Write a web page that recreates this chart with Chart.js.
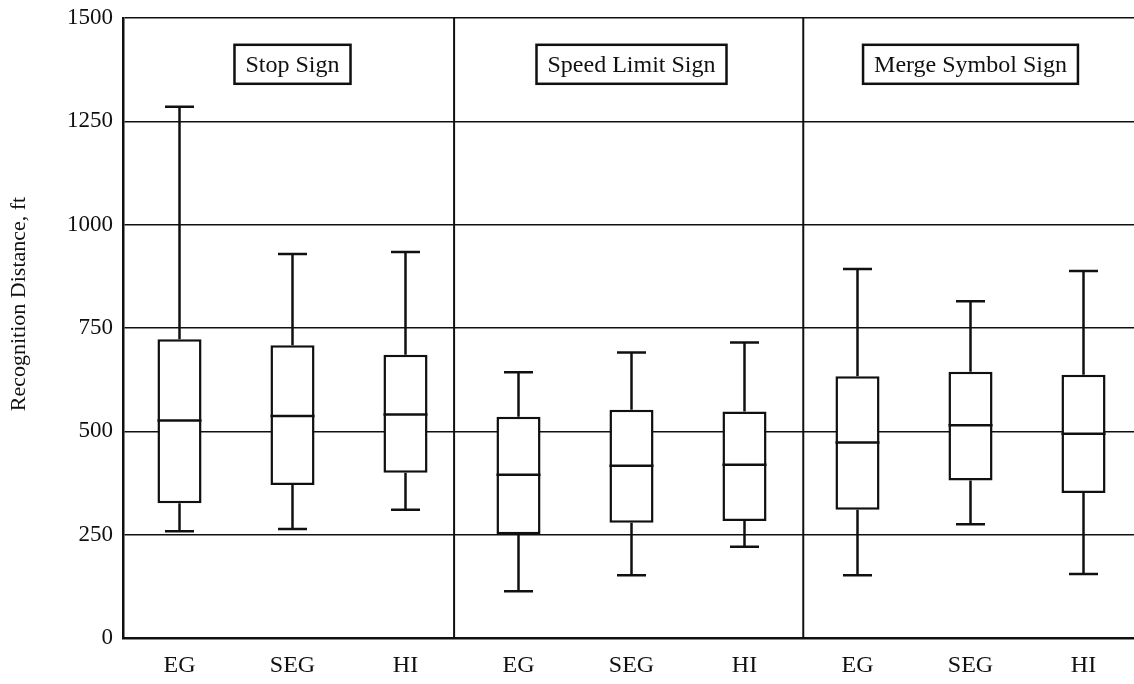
<!DOCTYPE html>
<html>
<head>
<meta charset="utf-8">
<title>Recognition Distance by Sign Type</title>
<script src="https://cdn.jsdelivr.net/npm/chart.js@4.4.1/dist/chart.umd.min.js"></script>
<style>
  html, body { margin: 0; padding: 0; background: #ffffff; overflow: hidden; }
  #wrap { width: 1134px; height: 684px; overflow: hidden; position: relative; }
  canvas { display: block; }
</style>
</head>
<body>
<div id="wrap"><canvas id="chart" width="1141" height="684"></canvas></div>
<script>
// Groups along the x axis (three sign types, three conditions each)
const categories = ['EG', 'SEG', 'HI', 'EG', 'SEG', 'HI', 'EG', 'SEG', 'HI'];

// Box-plot statistics, recognition distance in ft
const whiskerLow  = [258, 264, 310, 113, 152, 221, 152, 275, 155];
const quartile1   = [326, 370, 400, 251, 279, 283, 310, 381, 351];
const medians     = [526, 537, 541, 395, 417, 419, 473, 515, 494];
const quartile3   = [723, 708, 685, 535, 552, 548, 633, 644, 637];
const whiskerHigh = [1285, 929, 934, 643, 691, 715, 893, 815, 888];

// Panel captions, the category each is centred over, and panel dividers
const panelNames   = ['Stop Sign', 'Speed Limit Sign', 'Merge Symbol Sign'];
const panelCenters = [1, 4, 7];
const panelBreaks  = [2.43, 5.52];
const captionLevel = 1388;

// Y axis ticks
const yTicks = [0, 250, 500, 750, 1000, 1250, 1500];

const INK = '#101010';
const SERIF = "'Liberation Serif', 'DejaVu Serif', serif";

const boxData = categories.map((_, i) => [quartile1[i], quartile3[i]]);

// Panel dividers drawn under the boxes
const dividerPlugin = {
  id: 'dividers',
  beforeDatasetsDraw(chart) {
    const { ctx, chartArea, scales } = chart;
    ctx.save();
    ctx.strokeStyle = INK;
    ctx.lineWidth = 2;
    panelBreaks.forEach(v => {
      const x = scales.x.getPixelForValue(v);
      ctx.beginPath();
      ctx.moveTo(x, chartArea.top);
      ctx.lineTo(x, chartArea.bottom);
      ctx.stroke();
    });
    ctx.restore();
  }
};

// Whiskers, caps and median lines on top of the floating bars
const whiskerPlugin = {
  id: 'whiskers',
  afterDatasetsDraw(chart) {
    const { ctx, scales } = chart;
    const meta = chart.getDatasetMeta(0);
    const y = scales.y;
    ctx.save();
    ctx.strokeStyle = INK;
    ctx.lineWidth = 2.5;
    ctx.lineCap = 'butt';
    meta.data.forEach((bar, i) => {
      const x = bar.x;
      const half = bar.width / 2;
      const cap = 14.5;
      const yLo = y.getPixelForValue(whiskerLow[i]);
      const yQ1 = y.getPixelForValue(quartile1[i]);
      const yMed = y.getPixelForValue(medians[i]);
      const yQ3 = y.getPixelForValue(quartile3[i]);
      const yHi = y.getPixelForValue(whiskerHigh[i]);
      ctx.beginPath();
      ctx.moveTo(x, yQ3); ctx.lineTo(x, yHi);
      ctx.moveTo(x - cap, yHi); ctx.lineTo(x + cap, yHi);
      ctx.moveTo(x, yQ1); ctx.lineTo(x, yLo);
      ctx.moveTo(x - cap, yLo); ctx.lineTo(x + cap, yLo);
      ctx.moveTo(x - half, yMed); ctx.lineTo(x + half, yMed);
      ctx.stroke();
    });
    ctx.restore();
  }
};

// Boxed panel captions and the rotated y-axis title
const captionPlugin = {
  id: 'captions',
  afterDraw(chart) {
    const { ctx, scales } = chart;
    ctx.save();
    ctx.font = '24px ' + SERIF;
    ctx.textAlign = 'center';
    ctx.textBaseline = 'middle';
    panelNames.forEach((name, i) => {
      const cx = scales.x.getPixelForValue(panelCenters[i]);
      const cy = scales.y.getPixelForValue(captionLevel);
      const w = ctx.measureText(name).width + 22;
      const h = 39;
      ctx.fillStyle = '#ffffff';
      ctx.fillRect(cx - w / 2, cy - h / 2, w, h);
      ctx.strokeStyle = INK;
      ctx.lineWidth = 2.5;
      ctx.strokeRect(cx - w / 2, cy - h / 2, w, h);
      ctx.fillStyle = INK;
      ctx.fillText(name, cx, cy + 1);
    });
    ctx.translate(19, 304);
    ctx.rotate(-Math.PI / 2);
    ctx.font = '22px ' + SERIF;
    ctx.fillText('Recognition Distance, ft', 0, 0);
    ctx.restore();
  }
};

new Chart(document.getElementById('chart'), {
  type: 'bar',
  data: {
    labels: categories,
    datasets: [{
      label: 'Recognition distance',
      data: boxData,
      backgroundColor: '#ffffff',
      borderColor: INK,
      borderWidth: 2.5,
      borderSkipped: false,
      barPercentage: 0.39,
      categoryPercentage: 1.0
    }]
  },
  options: {
    responsive: false,
    animation: false,
    devicePixelRatio: 1,
    layout: { padding: { top: 18, right: 1, left: 0, bottom: 0 } },
    plugins: {
      legend: { display: false },
      tooltip: { enabled: false }
    },
    scales: {
      x: {
        type: 'category',
        offset: true,
        grid: { display: false, drawTicks: false },
        border: { display: true, color: INK, width: 2.5 },
        ticks: {
          color: INK,
          font: { family: SERIF, size: 24 },
          padding: 13,
          maxRotation: 0,
          autoSkip: false
        },
        afterFit(scale) { scale.height = 46; scale.paddingLeft = 0; scale.paddingRight = 0; }
      },
      y: {
        min: 0,
        max: 1500,
        afterBuildTicks(scale) { scale.ticks = yTicks.map(v => ({ value: v })); },
        grid: { color: INK, lineWidth: 1.6, drawTicks: false },
        border: { display: true, color: INK, width: 2.5 },
        ticks: {
          color: INK,
          font: { family: SERIF, size: 23 },
          padding: 10,
          callback: v => String(v)
        },
        afterFit(scale) { scale.width = 123; scale.paddingTop = 0; scale.paddingBottom = 0; }
      }
    }
  },
  plugins: [dividerPlugin, whiskerPlugin, captionPlugin]
});
</script>
</body>
</html>
